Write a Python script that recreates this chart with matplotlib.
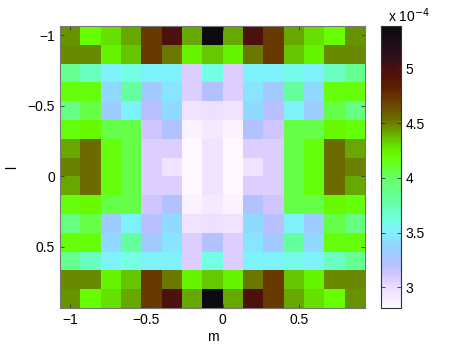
import numpy as np
import matplotlib
matplotlib.use("Agg")
import matplotlib.pyplot as plt
from matplotlib.colors import LinearSegmentedColormap

plt.rcParams['font.family'] = ['Liberation Sans', 'DejaVu Sans']

# grid coordinates (cell centres)
m_coords = np.linspace(-1, 1, 16)[:-1]
l_coords = np.linspace(-1, 1, 16)[:-1]

# values in units of 1e-4
values = np.array([
    [4.46, 4.20, 4.30, 4.42, 4.72, 4.97, 4.42, 5.35, 4.42, 4.97, 4.72, 4.42, 4.30, 4.20, 4.46],
    [4.48, 4.48, 4.24, 4.36, 4.72, 4.52, 4.24, 4.35, 4.24, 4.52, 4.72, 4.36, 4.24, 4.48, 4.48],
    [3.85, 3.70, 3.52, 3.60, 3.52, 3.52, 3.07, 3.60, 3.07, 3.52, 3.52, 3.58, 3.52, 3.70, 3.85],
    [4.18, 4.18, 3.40, 3.80, 3.30, 3.45, 3.07, 3.22, 3.07, 3.45, 3.30, 3.80, 3.40, 4.18, 4.18],
    [3.90, 4.05, 3.33, 3.52, 3.20, 3.40, 2.96, 2.98, 2.96, 3.40, 3.20, 3.52, 3.33, 4.05, 3.90],
    [4.18, 4.22, 4.05, 4.05, 3.12, 3.22, 2.86, 2.92, 2.86, 3.22, 3.12, 4.05, 4.05, 4.22, 4.18],
    [4.42, 4.55, 4.18, 4.05, 3.07, 3.07, 2.82, 2.96, 2.82, 3.07, 3.07, 4.05, 4.18, 4.55, 4.42],
    [4.50, 4.55, 4.18, 4.05, 3.07, 2.96, 2.82, 2.96, 2.82, 2.96, 3.07, 4.05, 4.18, 4.55, 4.50],
    [4.42, 4.55, 4.18, 4.05, 3.07, 3.07, 2.82, 2.96, 2.82, 3.07, 3.07, 4.05, 4.18, 4.55, 4.42],
    [4.18, 4.22, 4.05, 4.05, 3.12, 3.22, 2.86, 2.92, 2.86, 3.22, 3.12, 4.05, 4.05, 4.22, 4.18],
    [3.90, 4.05, 3.33, 3.52, 3.20, 3.40, 2.96, 2.98, 2.96, 3.40, 3.20, 3.52, 3.33, 4.05, 3.90],
    [4.18, 4.18, 3.40, 3.80, 3.30, 3.45, 3.07, 3.22, 3.07, 3.45, 3.30, 3.80, 3.40, 4.18, 4.18],
    [3.85, 3.70, 3.52, 3.60, 3.52, 3.52, 3.07, 3.60, 3.07, 3.52, 3.52, 3.58, 3.52, 3.70, 3.85],
    [4.48, 4.48, 4.24, 4.36, 4.72, 4.52, 4.24, 4.35, 4.24, 4.52, 4.72, 4.36, 4.24, 4.48, 4.48],
    [4.46, 4.20, 4.30, 4.42, 4.72, 4.97, 4.42, 5.35, 4.42, 4.97, 4.72, 4.42, 4.30, 4.20, 4.46],
])
vmin, vmax = 2.81, 5.39
x_ticks = [-1, -0.5, 0, 0.5]
y_ticks = [-1, -0.5, 0, 0.5]
cb_ticks = [3, 3.5, 4, 4.5, 5]

# colormap stops (value, colour)
cm_vals = [2.81, 3.0, 3.1, 3.2, 3.35, 3.5, 3.6, 3.75, 4.0, 4.1, 4.2, 4.3, 4.4, 4.5, 4.55, 4.7, 4.85, 5.0, 5.1, 5.39]
cm_cols = ['#fff8ff', '#ecdcff', '#d4c8ff', '#b8c0ff', '#98d0ff', '#80f0ff', '#74ffe4', '#66ffb0',
           '#66ff66', '#66ff30', '#66ff00', '#66e000', '#66b000', '#6b8000', '#6b6c00', '#6b4000',
           '#5a1c00', '#4a0e10', '#30101a', '#0a0a10']
pos = [(v - vmin) / (vmax - vmin) for v in cm_vals]
cmap = LinearSegmentedColormap.from_list('custom', list(zip(pos, cm_cols)))

fig = plt.figure(figsize=(4.63, 3.49), dpi=100)
ax = fig.add_axes([60/463, 41/349, 305/463, 282/349])
dm = m_coords[1] - m_coords[0]
dl = l_coords[1] - l_coords[0]
im = ax.imshow(values, cmap=cmap, vmin=vmin, vmax=vmax, aspect='auto', interpolation='nearest',
               origin='upper',
               extent=[m_coords[0] - dm/2, m_coords[-1] + dm/2, l_coords[-1] + dl/2, l_coords[0] - dl/2])
ax.set_xticks(x_ticks)
ax.set_yticks(y_ticks)
ax.set_xticklabels(['\u22121', '\u22120.5', '0', '0.5'])
ax.set_yticklabels(['\u22121', '\u22120.5', '0', '0.5'])
ax.tick_params(direction='in', top=True, right=True, length=3, width=0.6, labelsize=10, colors='#333333', labelcolor='black')
for s in ax.spines.values():
    s.set_color('#777777')
    s.set_linewidth(0.8)
ax.set_xlabel('m', fontsize=10, labelpad=2)
ax.set_ylabel('l', fontsize=10, labelpad=6)

cax = fig.add_axes([381/463, 41/349, 20/463, 282/349])
cb = fig.colorbar(im, cax=cax)
cb.set_ticks(cb_ticks)
cb.set_ticklabels(['3', '3.5', '4', '4.5', '5'])
cax.tick_params(direction='in', left=True, right=True, length=3, width=0.6, labelsize=10, colors='#333333', labelcolor='black')
cb.outline.set_edgecolor('#333333')
cb.outline.set_linewidth(0.8)
fig.text(388/463, 1 - 16/349, 'x 10$^{-4}$', fontsize=10, va='center', ha='left')

fig.savefig('out.png', dpi=100)
